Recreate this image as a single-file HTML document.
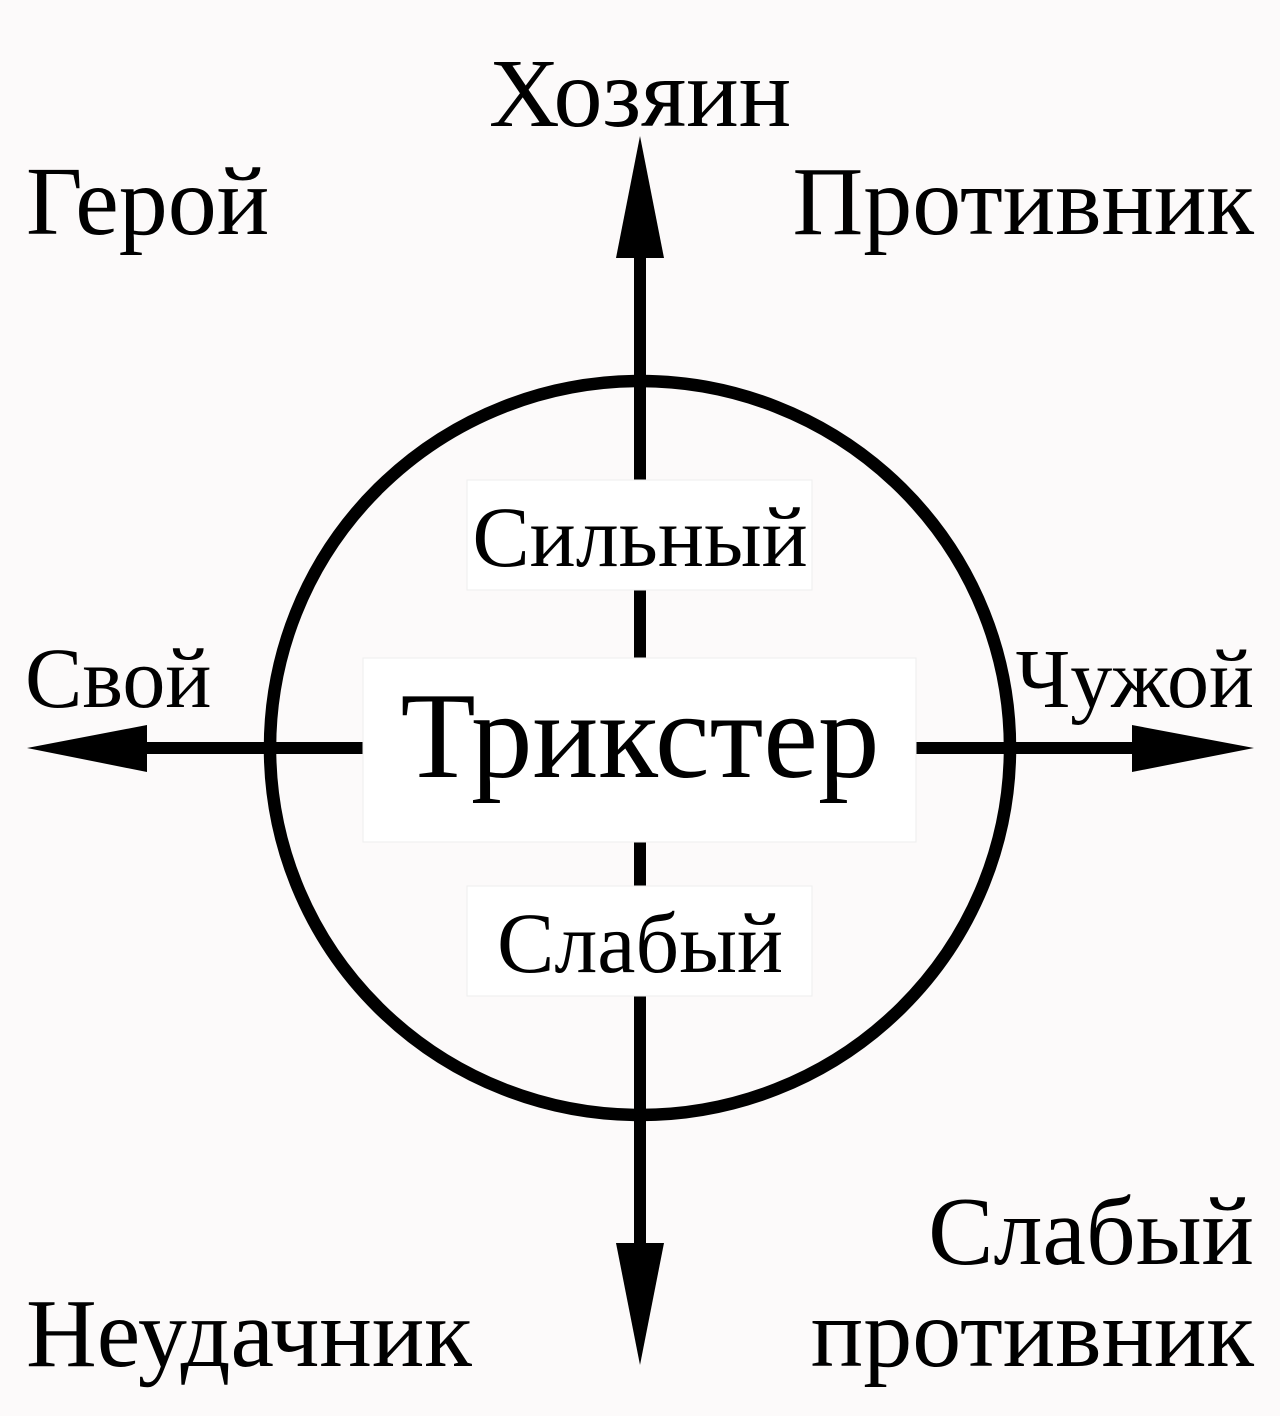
<!DOCTYPE html>
<html><head><meta charset="utf-8"><style>
html,body{margin:0;padding:0;background:#fcfafa;}
svg{display:block}
text{font-family:"Liberation Serif",serif;fill:#000}
</style></head><body>
<svg width="1280" height="1416" viewBox="0 0 1280 1416" xmlns="http://www.w3.org/2000/svg">
<rect width="1280" height="1416" fill="#fcfafa"/>
<ellipse cx="640" cy="748" rx="370" ry="367" fill="none" stroke="#000" stroke-width="12.5"/>
<line x1="640" y1="250" x2="640" y2="1250" stroke="#000" stroke-width="12"/>
<line x1="140" y1="748" x2="1140" y2="748" stroke="#000" stroke-width="12"/>
<polygon points="640,136 616,258 664,258" fill="#000"/>
<polygon points="640,1365 616,1243 664,1243" fill="#000"/>
<polygon points="27,748 147,725 147,772" fill="#000"/>
<polygon points="1254,748 1132,725 1132,772" fill="#000"/>
<rect x="467" y="480" width="345" height="110" fill="#fff" stroke="#eee" stroke-width="1"/>
<rect x="363" y="658" width="553" height="184" fill="#fff" stroke="#eee" stroke-width="1"/>
<rect x="467" y="886" width="345" height="110" fill="#fff" stroke="#eee" stroke-width="1"/>
<text x="640" y="566" font-size="86" text-anchor="middle">Сильный</text>
<text x="640" y="777" font-size="123" text-anchor="middle">Трикстер</text>
<text x="640" y="972" font-size="86" text-anchor="middle">Слабый</text>
<text x="640" y="126" font-size="98" text-anchor="middle">Хозяин</text>
<text x="26" y="234" font-size="98">Герой</text>
<text x="1254" y="234" font-size="98" text-anchor="end">Противник</text>
<text x="25" y="707" font-size="86">Свой</text>
<text x="1254" y="707" font-size="84" text-anchor="end">Чужой</text>
<text x="1254" y="1264" font-size="98" text-anchor="end">Слабый</text>
<text x="1254" y="1366" font-size="98" text-anchor="end">противник</text>
<text x="26" y="1366" font-size="98">Неудачник</text>
</svg>
</body></html>
